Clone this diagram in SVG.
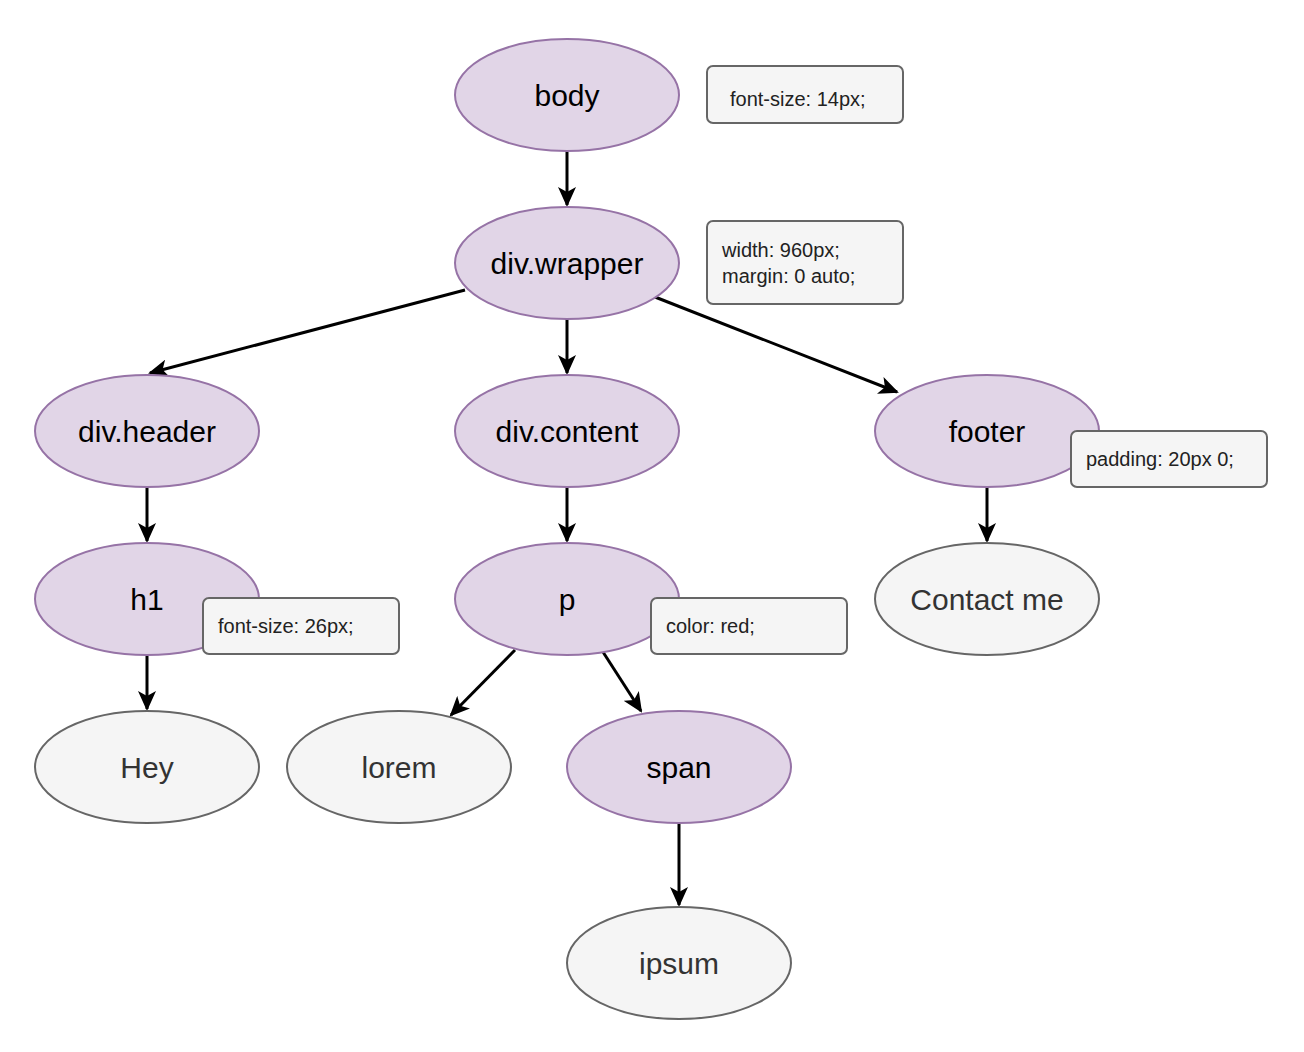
<svg xmlns="http://www.w3.org/2000/svg" width="1304" height="1052" viewBox="0 0 1304 1052">
<defs>
<marker id="a" markerWidth="20" markerHeight="18" refX="18" refY="9" orient="auto" markerUnits="userSpaceOnUse" viewBox="0 0 20 18"><path d="M0,0 L20,9 L0,18 L5,9 Z" fill="#000"/></marker>
<style>
.p{fill:#e1d5e7;stroke:#9673a6;stroke-width:2}
.g{fill:#f5f5f5;stroke:#666;stroke-width:2}
.n{fill:#f5f5f5;stroke:#666;stroke-width:2}
.t{font-family:"Liberation Sans",Arial,sans-serif;font-size:30px;text-anchor:middle;dominant-baseline:central;fill:#000}
.tg{fill:#333}
.s{font-family:"Liberation Sans",Arial,sans-serif;font-size:20px;fill:#222}
.c line{stroke:#000;stroke-width:3;marker-end:url(#a)}
</style>
</defs>
<rect width="1304" height="1052" fill="#fff"/>
<g class="c">
<line x1="567" y1="151" x2="567" y2="205"/>
<line x1="465" y1="290" x2="150" y2="373"/>
<line x1="567" y1="319" x2="567" y2="373"/>
<line x1="655" y1="297" x2="897" y2="392"/>
<line x1="147" y1="487" x2="147" y2="541"/>
<line x1="567" y1="487" x2="567" y2="541"/>
<line x1="987" y1="487" x2="987" y2="541"/>
<line x1="147" y1="655" x2="147" y2="709"/>
<line x1="515" y1="650" x2="451" y2="715"/>
<line x1="603" y1="652" x2="641" y2="711"/>
<line x1="679" y1="823" x2="679" y2="905"/>
</g>
<g id="body"><ellipse class="p" cx="567" cy="95" rx="112" ry="56"/><text class="t" x="567" y="95">body</text></g>
<g id="wrapper"><ellipse class="p" cx="567" cy="263" rx="112" ry="56"/><text class="t" x="567" y="263">div.wrapper</text></g>
<g id="header"><ellipse class="p" cx="147" cy="431" rx="112" ry="56"/><text class="t" x="147" y="431">div.header</text></g>
<g id="content"><ellipse class="p" cx="567" cy="431" rx="112" ry="56"/><text class="t" x="567" y="431">div.content</text></g>
<g id="footer"><ellipse class="p" cx="987" cy="431" rx="112" ry="56"/><text class="t" x="987" y="431">footer</text></g>
<g id="h1"><ellipse class="p" cx="147" cy="599" rx="112" ry="56"/><text class="t" x="147" y="599">h1</text></g>
<g id="p"><ellipse class="p" cx="567" cy="599" rx="112" ry="56"/><text class="t" x="567" y="599">p</text></g>
<g id="contact"><ellipse class="g" cx="987" cy="599" rx="112" ry="56"/><text class="t tg" x="987" y="599">Contact me</text></g>
<g id="hey"><ellipse class="g" cx="147" cy="767" rx="112" ry="56"/><text class="t tg" x="147" y="767">Hey</text></g>
<g id="lorem"><ellipse class="g" cx="399" cy="767" rx="112" ry="56"/><text class="t tg" x="399" y="767">lorem</text></g>
<g id="span"><ellipse class="p" cx="679" cy="767" rx="112" ry="56"/><text class="t" x="679" y="767">span</text></g>
<g id="ipsum"><ellipse class="g" cx="679" cy="963" rx="112" ry="56"/><text class="t tg" x="679" y="963">ipsum</text></g>
<g id="note-body"><rect class="n" x="707" y="66" width="196" height="57" rx="6"/><text class="s" x="730" y="106">font-size: 14px;</text></g>
<g id="note-wrapper"><rect class="n" x="707" y="221" width="196" height="83" rx="6"/><text class="s" x="722" y="257">width: 960px;</text><text class="s" x="722" y="283">margin: 0 auto;</text></g>
<g id="note-footer"><rect class="n" x="1071" y="431" width="196" height="56" rx="6"/><text class="s" x="1086" y="466">padding: 20px 0;</text></g>
<g id="note-h1"><rect class="n" x="203" y="598" width="196" height="56" rx="6"/><text class="s" x="218" y="633">font-size: 26px;</text></g>
<g id="note-p"><rect class="n" x="651" y="598" width="196" height="56" rx="6"/><text class="s" x="666" y="633">color: red;</text></g>
</svg>
